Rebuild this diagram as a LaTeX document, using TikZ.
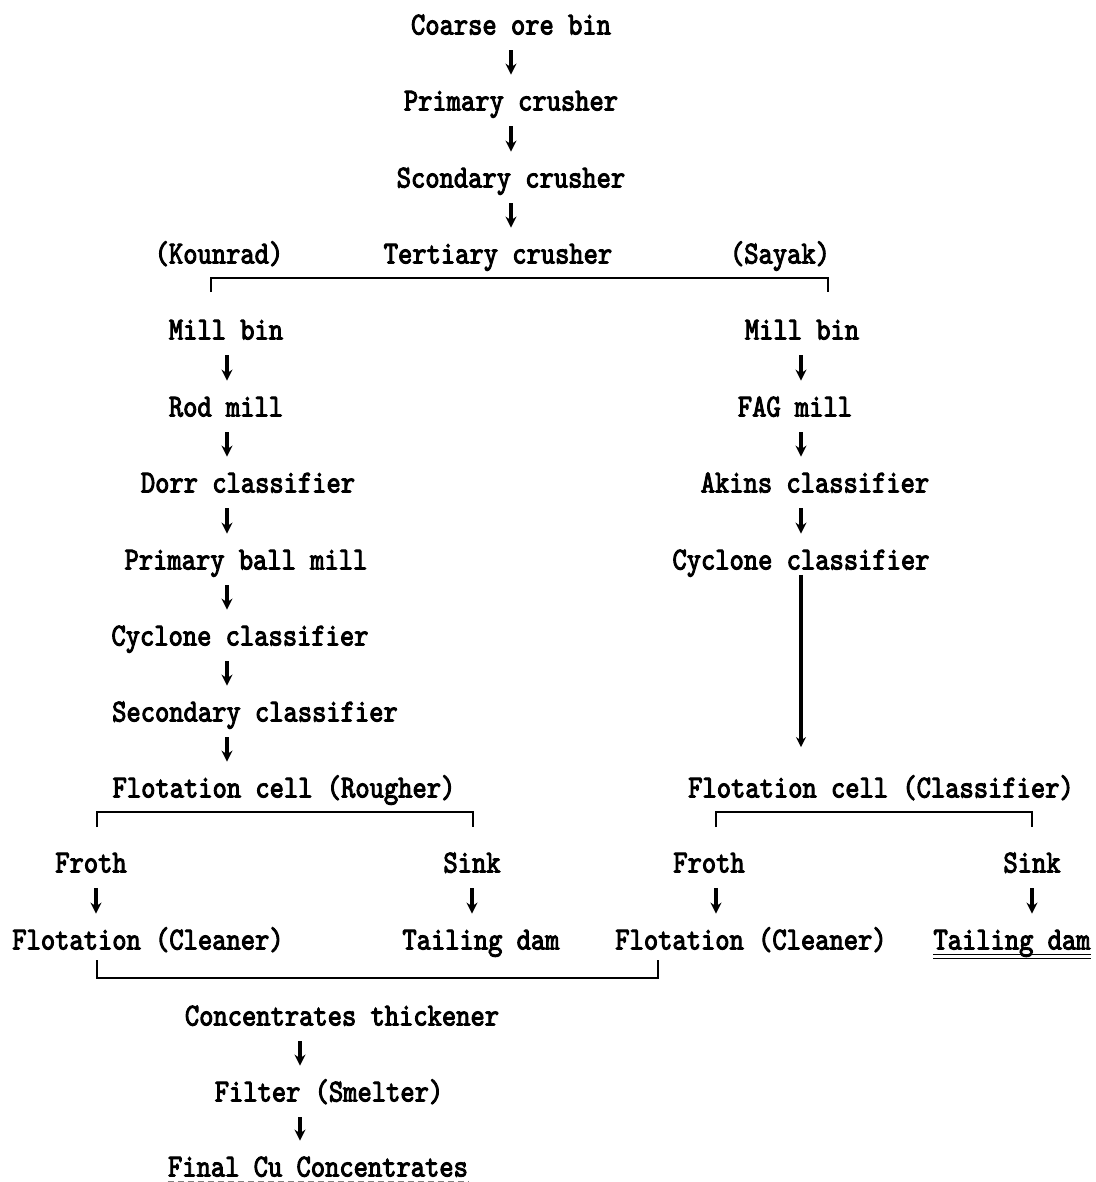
\documentclass[tikz,border=0pt]{standalone}
\usepackage{fontspec}
\newfontfamily\flowfont[FakeBold=3, FakeStretch=0.85]{lmmono10-regular.otf}
\usetikzlibrary{arrows.meta}

\tikzset{
  lbl/.style={font=\fontsize{16}{18}\selectfont\flowfont, inner sep=0pt, text height=12pt, text depth=2.5pt},
  arr/.style={line width=1.8pt, -{Stealth[length=5.5pt,width=5.5pt]}, shorten <=5.25pt, shorten >=5.75pt},
  brk/.style={line width=1.2pt},
}

\begin{document}
\begin{tikzpicture}[x=0.5pt, y=-0.5pt]
\useasboundingbox (0,0) rectangle (1096,1182);

% crushing line
\node[lbl] (coarse) at (511,25) {Coarse ore bin};
\node[lbl] (pcr) at (511,101) {Primary crusher};
\node[lbl] (scr) at (511,178) {Scondary crusher};
\node[lbl] (tcr) at (498,254) {Tertiary crusher};
\node[lbl] (kou) at (219,254) {(Kounrad)};
\node[lbl] (say) at (780,254) {(Sayak)};

% Kounrad side
\node[lbl] (mbk) at (226,330) {Mill bin};
\node[lbl] (rod) at (226,407) {Rod mill};
\node[lbl] (dorr) at (248,483) {Dorr classifier};
\node[lbl] (pbm) at (246,560) {Primary ball mill};
\node[lbl] (cck) at (240,636) {Cyclone classifier};
\node[lbl] (sck) at (255,712) {Secondary classifier};
\node[lbl] (fcr) at (284,788) {Flotation cell (Rougher)};
\node[lbl] (frk) at (91,863) {Froth};
\node[lbl] (snk) at (472,863) {Sink};
\node[lbl] (fck) at (148,940) {Flotation (Cleaner)};
\node[lbl] (tdk) at (481,940) {Tailing dam};

% Sayak side
\node[lbl] (mbs) at (802,330) {Mill bin};
\node[lbl] (fag) at (795,407) {FAG mill};
\node[lbl] (akins) at (815,483) {Akins classifier};
\node[lbl] (ccs) at (801,560) {Cyclone classifier};
\node[lbl] (fcc) at (881,788) {Flotation cell (Classifier)};
\node[lbl] (frs) at (709,863) {Froth};
\node[lbl] (sns) at (1032,863) {Sink};
\node[lbl] (fcs) at (751,940) {Flotation (Cleaner)};
\node[lbl] (tds) at (1012,940) {Tailing dam};

% concentrates
\node[lbl] (cth) at (342,1016) {Concentrates thickener};
\node[lbl] (fil) at (329,1092) {Filter (Smelter)};
\node[lbl] (fin) at (318,1167) {Final Cu Concentrates};

% arrow columns
\coordinate (cm) at (511,0);
\coordinate (ck) at (227,0);
\coordinate (cs) at (801,0);
\coordinate (cb) at (300,0);

\foreach \a/\b/\c in {coarse/pcr/cm, pcr/scr/cm, scr/tcr/cm,
    mbk/rod/ck, rod/dorr/ck, dorr/pbm/ck, pbm/cck/ck, cck/sck/ck, sck/fcr/ck,
    mbs/fag/cs, fag/akins/cs, akins/ccs/cs,
    cth/fil/cb, fil/fin/cb}
  \draw[arr] (\a.south -| \c) -- (\b.north -| \c);

\draw[arr] ([xshift=2.5pt]frk.south) -- ([xshift=2.5pt]fck.north -| frk);
\draw[arr] (snk.south) -- (snk |- tdk.north);
\draw[arr] ([xshift=3.5pt]frs.south) -- ([xshift=3.5pt]fcs.north -| frs);
\draw[arr] (sns.south) -- (sns |- tds.north);

\draw[line width=2.2pt, -{Stealth[length=5pt,width=5pt]}, shorten <=0pt, shorten >=13pt] (ccs.south -| cs) -- (fcc.north -| cs);

% brackets
\coordinate (tbl) at (211,292);
\coordinate (tbr) at (828,292);
\draw[brk] (tbl) -- ++(0,-14) -| (tbr);
\coordinate (rbl) at (97,827);
\coordinate (rbr) at (473,827);
\draw[brk] (rbl) -- ++(0,-15) -| (rbr);
\coordinate (cbl) at (716,827);
\coordinate (cbr) at (1032,827);
\draw[brk] (cbl) -- ++(0,-15) -| (cbr);
\coordinate (bbl) at (97,960);
\coordinate (bbr) at (658,960);
\draw[brk] (bbl) -- ++(0,18) -| (bbr);

% underlines
\draw[line width=0.5pt] (tds.south west) -- (tds.south east);
\draw[line width=0.5pt] ([yshift=-2pt]tds.south west) -- ([yshift=-2pt]tds.south east);
\draw[line width=0.5pt, gray, dash pattern=on 3pt off 2pt] (fin.south west) -- (fin.south east);
\end{tikzpicture}
\end{document}
